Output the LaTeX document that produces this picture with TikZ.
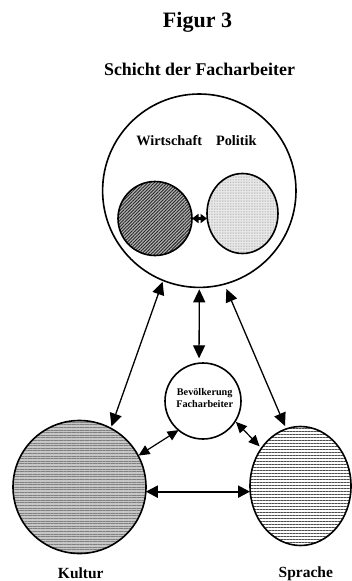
\documentclass[tikz,border=0pt]{standalone}
\usepackage{fontspec}
\setmainfont{Liberation Serif}
\usetikzlibrary{arrows.meta,patterns.meta,shapes.geometric}

\tikzset{
  ring/.style={circle, draw=black, line width=1.6pt, inner sep=0pt, outer sep=0pt},
  oval/.style={ellipse, draw=black, line width=1.6pt, inner sep=0pt, outer sep=0pt},
  label/.style={inner sep=0pt, anchor=base, font=\bfseries},
  link/.style={line width=1.3pt, {Triangle[length=13pt,width=12pt]}-{Triangle[length=13pt,width=12pt]}},
  linksmall/.style={line width=1.2pt, {Triangle[length=11pt,width=10pt]}-{Triangle[length=11pt,width=10pt]}},
  linkthick/.style={line width=2.2pt, {Triangle[length=12pt,width=12pt]}-{Triangle[length=12pt,width=12pt]}},
  linktiny/.style={line width=2.5pt, {Triangle[length=6.5pt,width=9pt]}-{Triangle[length=6.5pt,width=9pt]}},
}

\begin{document}
\begin{tikzpicture}[x=1pt,y=-1pt]
  \fill[white] (0,0) rectangle (351,581);
  \useasboundingbox (0,0) rectangle (351,581);

  % titles
  \node[label, font=\bfseries\fontsize{22}{24}\selectfont] (fig) at (197.5,27.7) {Figur 3};
  \node[label, font=\bfseries\fontsize{17.9}{20}\selectfont] (layer) at (199.5,75) {Schicht der Facharbeiter};

  % upper group
  \node[ring, minimum size=193.4pt] (big) at (199.3,190.7) {};
  \node[label, font=\bfseries\fontsize{14.3}{16}\selectfont] (wlab) at (169.2,145) {Wirtschaft};
  \node[label, font=\bfseries\fontsize{14.3}{16}\selectfont] (plab) at (236.3,145) {Politik};
  \node[ring, minimum size=74pt,
        preaction={fill=black!30},
        pattern={Lines[angle=45,distance=2.3pt,line width=0.9pt]}, pattern color=black!85] (wirt) at (155,218.5) {};
  \node[oval, minimum width=71pt, minimum height=80pt,
        preaction={fill=black!8},
        pattern={Dots[distance=1.6pt,radius=0.35pt]}, pattern color=black!40] (poli) at (242.5,213.5) {};
  \draw[linktiny] (wirt.east) -- (wirt.east -| poli.west);

  % population circle
  \node[ring, minimum size=76pt] (pop) at (203,401) {};
  \node[label, font=\bfseries\fontsize{10.2}{12}\selectfont] (poplab1) at (204.7,395.7) {Bevölkerung};
  \node[label, font=\bfseries\fontsize{10.2}{12}\selectfont] (poplab2) at (204.7,407) {Facharbeiter};

  % lower circles
  \node[ring, minimum size=133pt,
        preaction={fill=black!22},
        pattern={Lines[angle=0,distance=2.6pt,line width=1pt]}, pattern color=black!50] (kultur) at (79.5,487) {};
  \node[oval, minimum width=101pt, minimum height=119pt,
        preaction={fill=white},
        pattern={Lines[angle=0,distance=3pt,line width=0.3pt]}, pattern color=black!70] (sprache) at (300.5,486) {};
  \node[label, font=\bfseries\fontsize{15.5}{18}\selectfont] (klab) at (80.8,578) {Kultur};
  \node[label, font=\bfseries\fontsize{15.5}{18}\selectfont] (slab) at (305.8,577) {Sprache};

  % connectors
  \draw[link, shorten <=1.4pt, shorten >=2pt] (big.-112) -- (kultur.62);
  \draw[link, shorten <=1.9pt, shorten >=4.9pt] (big.-90.5) -- (pop.96);
  \draw[link, shorten <=5.2pt, shorten >=3.2pt] (big.-75.4) -- (sprache.104.5);
  \draw[linksmall, shorten <=0.4pt] (kultur.28.6) -- (pop.-130.4);
  \draw[linksmall, shorten <=1pt, shorten >=2.7pt] (pop.-32.5) -- (sprache.136.4);
  \draw[linkthick] (kultur.-4) -- (kultur.-4 -| sprache.west);
\end{tikzpicture}
\end{document}
